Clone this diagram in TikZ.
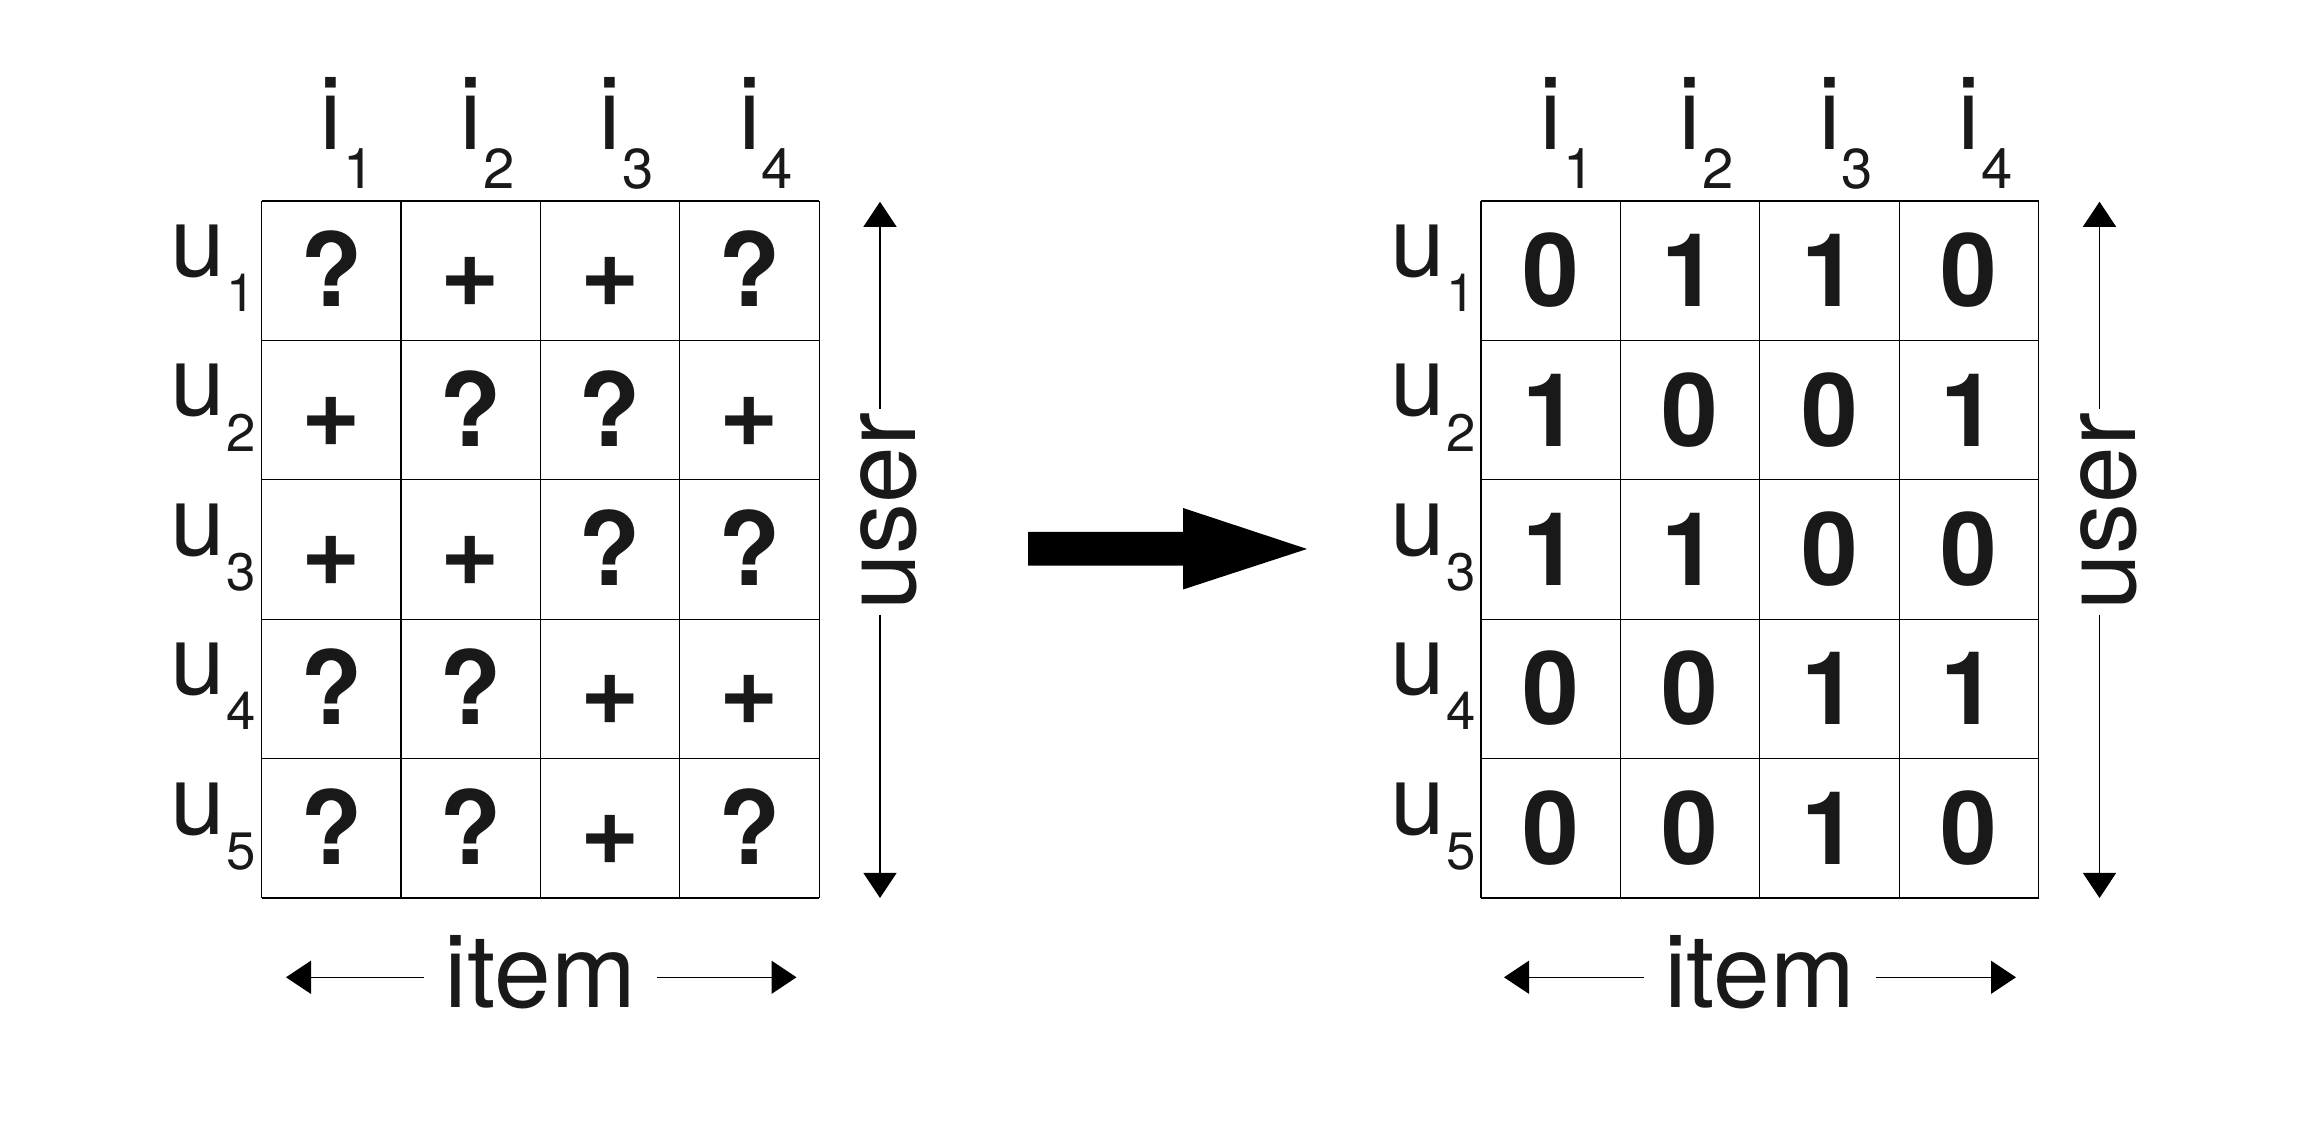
\documentclass[tikz,border=0pt]{standalone}
\usepackage{fontspec}
\setmainfont{TeX Gyre Heros}
\usetikzlibrary{arrows.meta}

\definecolor{inkgray}{gray}{0.1}
\newcommand{\lblsub}[4]{#1\rlap{\kern0.01cm\raisebox{-#3}{\fontsize{#4}{#4}\selectfont #2}}}

\tikzset{
  cellval/.style={font=\fontsize{29}{29}\selectfont\bfseries, text=inkgray, anchor=base, inner sep=0pt},
  axislbl/.style={font=\fontsize{29}{29}\selectfont, text=inkgray, inner sep=0.03cm},
  rowlbl/.style={font=\fontsize{28}{28}\selectfont, text=inkgray, inner sep=0.03cm, anchor=base},
  axisarrow/.style={line width=0.35pt, -{Triangle[length=0.25cm, width=0.33cm]}},
  gridline/.style={line width=0.35pt}
}

\begin{document}
\begin{tikzpicture}

	\fill[white] (0,0) rectangle (22.98,11.3);
	\useasboundingbox (0,0) rectangle (22.98,11.3);

	% left matrix
	\draw[gridline, shift={(2.616,2.32)}, step=1.394] (0,0) grid (5.577,6.971);

	\node[axislbl, anchor=base] (iL1) at (3.313,9.80) {\lblsub{i}{1}{0.39cm}{16}};
	\node[axislbl, anchor=base] (iL2) at (4.707,9.80) {\lblsub{i}{2}{0.39cm}{16}};
	\node[axislbl, anchor=base] (iL3) at (6.101,9.80) {\lblsub{i}{3}{0.39cm}{16}};
	\node[axislbl, anchor=base] (iL4) at (7.495,9.80) {\lblsub{i}{4}{0.39cm}{16}};

	\node[rowlbl] (uL1) at (1.98,8.535) {\lblsub{u}{1}{0.353cm}{15}};
	\node[rowlbl] (uL2) at (1.98,7.141) {\lblsub{u}{2}{0.353cm}{15}};
	\node[rowlbl] (uL3) at (1.98,5.747) {\lblsub{u}{3}{0.353cm}{15}};
	\node[rowlbl] (uL4) at (1.98,4.353) {\lblsub{u}{4}{0.353cm}{15}};
	\node[rowlbl] (uL5) at (1.98,2.959) {\lblsub{u}{5}{0.353cm}{15}};

	\node[cellval] (L11) at (3.313,8.232) {?};
	\node[cellval] (L12) at (4.707,8.232) {+};
	\node[cellval] (L13) at (6.101,8.232) {+};
	\node[cellval] (L14) at (7.495,8.232) {?};

	\node[cellval] (L21) at (3.313,6.838) {+};
	\node[cellval] (L22) at (4.707,6.838) {?};
	\node[cellval] (L23) at (6.101,6.838) {?};
	\node[cellval] (L24) at (7.495,6.838) {+};

	\node[cellval] (L31) at (3.313,5.444) {+};
	\node[cellval] (L32) at (4.707,5.444) {+};
	\node[cellval] (L33) at (6.101,5.444) {?};
	\node[cellval] (L34) at (7.495,5.444) {?};

	\node[cellval] (L41) at (3.313,4.050) {?};
	\node[cellval] (L42) at (4.707,4.050) {?};
	\node[cellval] (L43) at (6.101,4.050) {+};
	\node[cellval] (L44) at (7.495,4.050) {+};

	\node[cellval] (L51) at (3.313,2.656) {?};
	\node[cellval] (L52) at (4.707,2.656) {?};
	\node[cellval] (L53) at (6.101,2.656) {+};
	\node[cellval] (L54) at (7.495,2.656) {?};

	\node[axislbl, rotate=90] (userL) at (8.89,6.183) {user};
	\coordinate (uTopL) at (8.80,9.282);
	\coordinate (uBotL) at (8.80,2.32);
	\draw[axisarrow] (userL.east -| uTopL) -- (uTopL);
	\draw[axisarrow] (userL.west -| uBotL) -- (uBotL);

	\node[axislbl, anchor=base, inner xsep=0.2cm] (itemL) at (5.404,1.22) {item};
	\coordinate (itmLl) at (2.86,1.527);
	\coordinate (itmLr) at (7.965,1.527);
	\draw[axisarrow] (itemL.west |- itmLl) -- (itmLl);
	\draw[axisarrow] (itemL.east |- itmLr) -- (itmLr);

	% big arrow
	\fill[black]
    (10.28,5.643) -- (11.83,5.643) -- (11.83,5.405) -- (13.07,5.81)
    -- (11.83,6.22) -- (11.83,5.981) -- (10.28,5.981) -- cycle;

	% right matrix
	\draw[gridline, shift={(14.81,2.32)}, step=1.394] (0,0) grid (5.577,6.971);

	\node[axislbl, anchor=base] (iR1) at (15.507,9.80) {\lblsub{i}{1}{0.39cm}{16}};
	\node[axislbl, anchor=base] (iR2) at (16.901,9.80) {\lblsub{i}{2}{0.39cm}{16}};
	\node[axislbl, anchor=base] (iR3) at (18.295,9.80) {\lblsub{i}{3}{0.39cm}{16}};
	\node[axislbl, anchor=base] (iR4) at (19.689,9.80) {\lblsub{i}{4}{0.39cm}{16}};

	\node[rowlbl] (uR1) at (14.18,8.535) {\lblsub{u}{1}{0.353cm}{15}};
	\node[rowlbl] (uR2) at (14.18,7.141) {\lblsub{u}{2}{0.353cm}{15}};
	\node[rowlbl] (uR3) at (14.18,5.747) {\lblsub{u}{3}{0.353cm}{15}};
	\node[rowlbl] (uR4) at (14.18,4.353) {\lblsub{u}{4}{0.353cm}{15}};
	\node[rowlbl] (uR5) at (14.18,2.959) {\lblsub{u}{5}{0.353cm}{15}};

	\node[cellval] (R11) at (15.507,8.232) {0};
	\node[cellval] (R12) at (16.901,8.232) {1};
	\node[cellval] (R13) at (18.295,8.232) {1};
	\node[cellval] (R14) at (19.689,8.232) {0};

	\node[cellval] (R21) at (15.507,6.838) {1};
	\node[cellval] (R22) at (16.901,6.838) {0};
	\node[cellval] (R23) at (18.295,6.838) {0};
	\node[cellval] (R24) at (19.689,6.838) {1};

	\node[cellval] (R31) at (15.507,5.444) {1};
	\node[cellval] (R32) at (16.901,5.444) {1};
	\node[cellval] (R33) at (18.295,5.444) {0};
	\node[cellval] (R34) at (19.689,5.444) {0};

	\node[cellval] (R41) at (15.507,4.050) {0};
	\node[cellval] (R42) at (16.901,4.050) {0};
	\node[cellval] (R43) at (18.295,4.050) {1};
	\node[cellval] (R44) at (19.689,4.050) {1};

	\node[cellval] (R51) at (15.507,2.656) {0};
	\node[cellval] (R52) at (16.901,2.656) {0};
	\node[cellval] (R53) at (18.295,2.656) {1};
	\node[cellval] (R54) at (19.689,2.656) {0};

	\node[axislbl, rotate=90] (userR) at (21.09,6.183) {user};
	\coordinate (uTopR) at (20.995,9.282);
	\coordinate (uBotR) at (20.995,2.32);
	\draw[axisarrow] (userR.east -| uTopR) -- (uTopR);
	\draw[axisarrow] (userR.west -| uBotR) -- (uBotR);

	\node[axislbl, anchor=base, inner xsep=0.2cm] (itemR) at (17.598,1.22) {item};
	\coordinate (itmRl) at (15.04,1.527);
	\coordinate (itmRr) at (20.16,1.527);
	\draw[axisarrow] (itemR.west |- itmRl) -- (itmRl);
	\draw[axisarrow] (itemR.east |- itmRr) -- (itmRr);

\end{tikzpicture}
\end{document}
